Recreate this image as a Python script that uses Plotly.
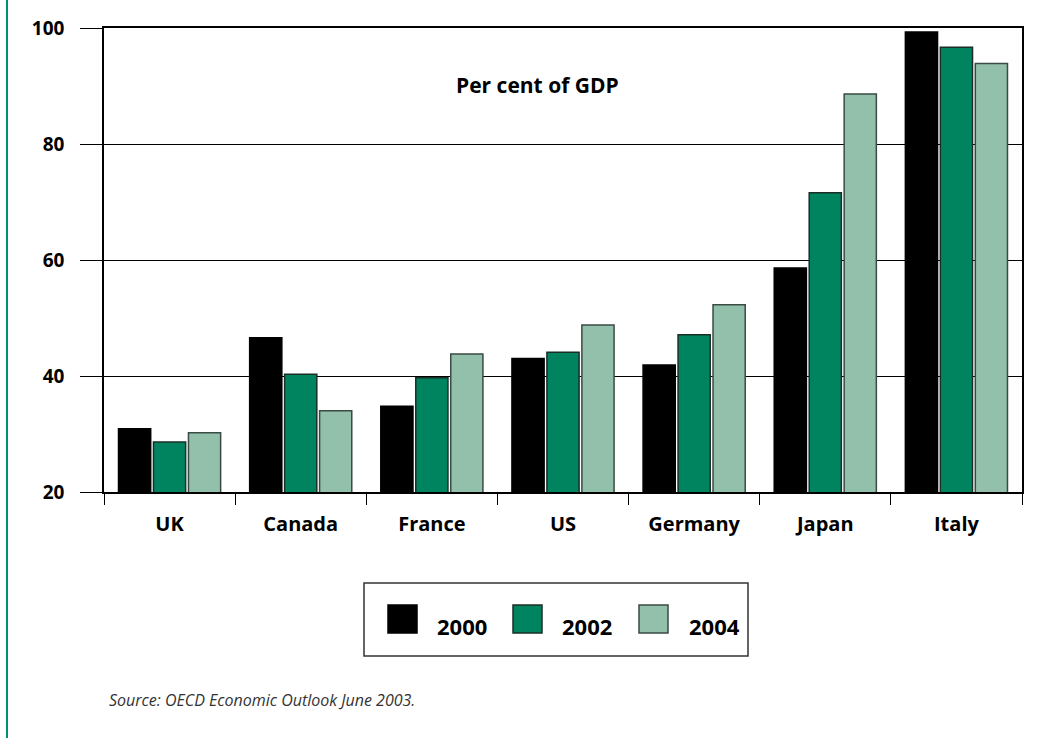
import plotly.graph_objects as go

countries = ["UK", "Canada", "France", "US", "Germany", "Japan", "Italy"]
years = ["2000", "2002", "2004"]
debt_2000 = [30.9, 46.6, 34.8, 43.0, 41.9, 58.6, 99.3]
debt_2002 = [28.6, 40.3, 39.7, 44.1, 47.1, 71.6, 96.7]
debt_2004 = [30.2, 34.0, 43.8, 48.8, 52.3, 88.6, 93.9]
series = [debt_2000, debt_2002, debt_2004]
fills = ["#000000", "#00845f", "#93c0aa"]
outlines = ["#000000", "#1a2e26", "#3a4a44"]
y_ticks = [20, 40, 60, 80, 100]

FONT = "Open Sans"

fig = go.Figure()
for yr, vals, fc, lc in zip(years, series, fills, outlines):
    fig.add_trace(go.Bar(
        x=countries, y=vals, name=yr,
        marker=dict(color=fc, line=dict(color=lc, width=1.5)),
        showlegend=False,
    ))

W, H = 1059, 738
L, R, T, B = 104, 37, 28, 246
pw, ph = W - L - R, H - T - B
def px(x):
    return (x - L) / pw
def py(y):
    return (H - B - y) / ph

fig.update_layout(
    width=W, height=H,
    margin=dict(l=L, r=R, t=T, b=B),
    paper_bgcolor="white", plot_bgcolor="white",
    barmode="group", bargap=0.2, bargroupgap=0.08,
    font=dict(family=FONT, color="black"),
)
fig.update_yaxes(
    range=[20, 100], tickvals=y_ticks, ticktext=["<b>%d</b>" % v for v in y_ticks],
    showgrid=True, gridcolor="black", gridwidth=1,
    ticks="outside", ticklen=22, tickcolor="black", tickwidth=1,
    showline=True, linecolor="black", linewidth=1.5, mirror=True,
    tickfont=dict(family=FONT, size=19, color="black"),
    ticklabelstandoff=12, zeroline=False,
)
fig.update_xaxes(
    tickson="boundaries", ticks="outside", ticklen=11, tickcolor="black", tickwidth=1,
    showline=True, linecolor="black", linewidth=1.5, mirror=True, showgrid=False,
    tickvals=countries, ticktext=["<b>%s</b>" % c for c in countries],
    tickfont=dict(family=FONT, size=20, color="black"),
    ticklabelstandoff=13,
)

fig.add_annotation(
    x=px(537), y=py(85), xref="paper", yref="paper", xanchor="center", yanchor="middle",
    text="<b>Per cent of GDP</b>",
    showarrow=False, font=dict(family=FONT, size=21, color="black"),
)

# custom legend box
fig.add_shape(type="rect", xref="paper", yref="paper",
              x0=px(364), x1=px(748), y0=py(656), y1=py(583),
              line=dict(color="#333333", width=1.5), fillcolor="white")
sw_x = [388, 513, 639]
tx_x = [462, 587, 714]
for yr, fc, lc, sx, tx in zip(years, fills, outlines, sw_x, tx_x):
    fig.add_shape(type="rect", xref="paper", yref="paper",
                  x0=px(sx), x1=px(sx + 29), y0=py(633), y1=py(605),
                  line=dict(color=lc, width=1.5), fillcolor=fc)
    fig.add_annotation(x=px(tx), y=py(626), xref="paper", yref="paper",
                       xanchor="center", yanchor="middle",
                       text="<b>%s</b>" % yr, showarrow=False,
                       font=dict(family=FONT, size=22, color="black"))

# source note
fig.add_annotation(x=px(107), y=py(700), xref="paper", yref="paper",
                   xanchor="left", yanchor="middle",
                   text="<i>Source: OECD Economic Outlook June 2003.</i>",
                   showarrow=False, font=dict(family=FONT, size=16, color="#333333"))

# green rule at left edge
fig.add_shape(type="line", xref="paper", yref="paper",
              x0=px(7), x1=px(7), y0=py(0), y1=py(738),
              line=dict(color="#00936b", width=2))

fig.write_html("out.html")
